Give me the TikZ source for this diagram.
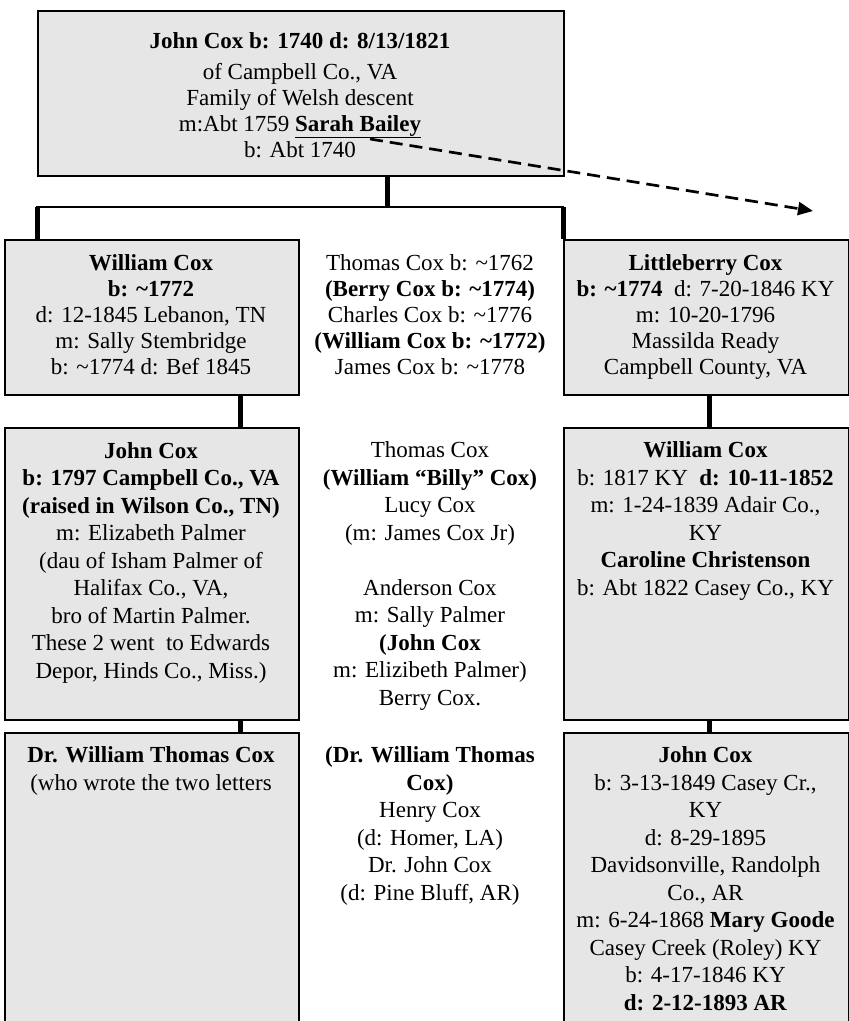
\documentclass[tikz,border=0pt]{standalone}
\usepackage{fontspec}
\setmainfont{Liberation Serif}
\usetikzlibrary{arrows.meta}
\definecolor{boxgray}{RGB}{230,230,230}

\begin{document}
\begin{tikzpicture}[x=1pt,y=-1pt]
    \tikzstyle{every node}=[font=\fontsize{23}{25.9}\selectfont, align=center, inner sep=0pt]
    \tikzstyle{box}=[draw, fill=boxgray, line width=1.7pt, anchor=north west]
    \tikzstyle{info}=[anchor=base] % base = last line
    \tikzstyle{lower}=[font=\fontsize{23}{27.5}\selectfont]
    \tikzstyle{stem}=[line width=5pt]
    \useasboundingbox (0,0) rectangle (849,1021);
    \clip (0,0) rectangle (849,1021);

    % boxes
    \node[box, minimum width=526pt, minimum height=165pt] (root) at (37,10) {};
    \node[box, minimum width=294pt, minimum height=155pt] (william) at (4,239) {};
    \node[box, minimum width=285pt, minimum height=155pt] (littleberry) at (563,239) {};
    \node[box, minimum width=294pt, minimum height=292pt] (johnl) at (4,427) {};
    \node[box, minimum width=285pt, minimum height=292pt] (williamr) at (563,427) {};
    \node[box, minimum width=294pt, minimum height=320pt] (drwt) at (4,732) {};
    \node[box, minimum width=285pt, minimum height=320pt] (johnr) at (563,732) {};

    % connectors
    \coordinate (hub) at (387,207);
    \coordinate (hubL) at (37,207);
    \coordinate (hubR) at (563,207);
    \coordinate (leftx) at (240,0);
    \coordinate (rightx) at (709,0);
    \draw[stem] (root.south -| hub) -- (hub);
    \draw[line width=2.3pt, line cap=rect] (hubL) -- (hubR);
    \draw[stem] (hubL) -- (hubL |- william.north);
    \draw[stem] (hubR) -- (hubR |- littleberry.north);
    \draw[stem] (william.south -| leftx) -- (johnl.north -| leftx);
    \draw[stem] (johnl.south -| leftx) -- (drwt.north -| leftx);
    \draw[stem] (littleberry.south -| rightx) -- (williamr.north -| rightx);
    \draw[stem] (williamr.south -| rightx) -- (johnr.north -| rightx);

    % texts
    \node[info] (roottext) at (300,157) {\textbf{John Cox b: 1740 d: 8/13/1821}\\[5pt]
        of Campbell Co., VA\\ Family of Welsh descent\\
        m:Abt 1759 \underline{\textbf{Sarah Bailey}}\\ b: Abt 1740};
    \node[info] (williamtext) at (151,374) {\textbf{William Cox}\\ \textbf{b: \textasciitilde1772}\\
        d: 12-1845 Lebanon, TN\\ m: Sally Stembridge\\ b: \textasciitilde1774 d: Bef 1845};
    \node[info] (siblings) at (430,374) {Thomas Cox b: \textasciitilde1762\\
        \textbf{(Berry Cox b: \textasciitilde1774)}\\ Charles Cox b: \textasciitilde1776\\
        \textbf{(William Cox b: \textasciitilde1772)}\\ James Cox b: \textasciitilde1778};
    \node[info] (littleberrytext) at (705.5,374) {\textbf{Littleberry Cox}\\
        \textbf{b: \textasciitilde1774}\ \ d: 7-20-1846 KY\\ m: 10-20-1796\\
        Massilda Ready\\ Campbell County, VA};

    \node[info, lower] (johnltext) at (151,678) {\textbf{John Cox}\\ \textbf{b: 1797 Campbell Co., VA}\\
        \textbf{(raised in Wilson Co., TN)}\\ m: Elizabeth Palmer\\ (dau of Isham Palmer of\\
        Halifax Co., VA,\\ bro of Martin Palmer.\\ These 2 went\ \ to Edwards\\
        Depor, Hinds Co., Miss.)};
    \node[info, lower] (children) at (430,705) {Thomas Cox\\ \textbf{(William “Billy” Cox)}\\
        Lucy Cox\\ (m: James Cox Jr)\\[27.5pt] Anderson Cox\\ m: Sally Palmer\\
        \textbf{(John Cox}\\ m: Elizibeth Palmer)\\ Berry Cox.};
    \node[info, lower] (williamrtext) at (705.5,595) {\textbf{William Cox}\\
        b: 1817 KY\ \ \textbf{d: 10-11-1852}\\ m: 1-24-1839 Adair Co.,\\ KY\\
        \textbf{Caroline Christenson}\\ b: Abt 1822 Casey Co., KY};

    \node[info, lower] (drwttext) at (151,790) {\textbf{Dr. William Thomas Cox}\\
        (who wrote the two letters};
    \node[info, lower] (grandchildren) at (430,900) {\textbf{(Dr. William Thomas}\\ \textbf{Cox)}\\
        Henry Cox\\ (d: Homer, LA)\\ Dr. John Cox\\ (d: Pine Bluff, AR)};
    \node[info, lower] (johnrtext) at (705.5,1010) {\textbf{John Cox}\\ b: 3-13-1849 Casey Cr.,\\ KY\\
        d: 8-29-1895\\ Davidsonville, Randolph\\ Co., AR\\ m: 6-24-1868 \textbf{Mary Goode}\\
        Casey Creek (Roley) KY\\ b: 4-17-1846 KY\\ \textbf{d: 2-12-1893 AR}};

    % spouse pointer
    \coordinate (sarah) at (370,139);
    \coordinate (spouse) at (813,211);
    \draw[line width=2.7pt, dash pattern=on 13pt off 7pt, -{Triangle[length=15pt,width=13pt]}] (sarah) -- (spouse);
\end{tikzpicture}
\end{document}
